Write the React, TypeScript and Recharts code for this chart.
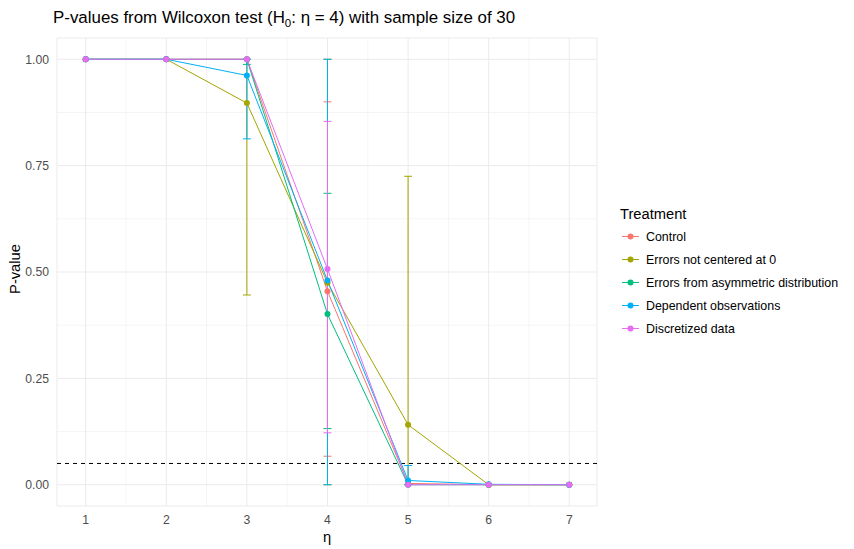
// P-values from the Wilcoxon test for several treatments, eta = 1..7.
// Lines with dots per treatment, asymmetric error bars at eta 3-5 and a
// dashed significance line at 0.05.

import {
  CartesianGrid,
  ComposedChart,
  ErrorBar,
  Line,
  ReferenceLine,
  XAxis,
  YAxis,
} from "recharts";

const etas = [1, 2, 3, 4, 5, 6, 7];

const treatments = [
  "Control",
  "Errors not centered at 0",
  "Errors from asymmetric distribution",
  "Dependent observations",
  "Discretized data",
];

const colors = ["#F8766D", "#A3A500", "#00BF7D", "#00B0F6", "#E76BF3"];

// median p-value per eta
const controlP = [1, 1, 1, 0.455, 0.003, 0, 0];
const notCenteredP = [1, 1, 0.897, 0.475, 0.141, 0, 0];
const asymmetricP = [1, 1, 1, 0.401, 0, 0, 0];
const dependentP = [1, 1, 0.962, 0.48, 0.01, 0.001, 0];
const discretizedP = [1, 1, 1, 0.507, 0, 0, 0];

// error bar bounds (null = no bar)
const controlLow = [null, null, null, 0.067, null, null, null];
const controlHigh = [null, null, null, 0.9, null, null, null];
const notCenteredLow = [null, null, 0.446, 0, 0, null, null];
const notCenteredHigh = [null, null, 1, 1, 0.725, null, null];
const asymmetricLow = [null, null, 0.988, 0.132, null, null, null];
const asymmetricHigh = [null, null, 1, 0.685, null, null, null];
const dependentLow = [null, null, 0.813, 0, 0, null, null];
const dependentHigh = [null, null, 1, 1, 0.045, null, null];
const discretizedLow = [null, null, null, 0.122, null, null, null];
const discretizedHigh = [null, null, null, 0.854, null, null, null];

const yTicks = [0, 0.25, 0.5, 0.75, 1];
const yMinor = [0.125, 0.375, 0.625, 0.875];
const xMinor = [1.5, 2.5, 3.5, 4.5, 5.5, 6.5];

const seriesValues = [controlP, notCenteredP, asymmetricP, dependentP, discretizedP];
const seriesLow = [controlLow, notCenteredLow, asymmetricLow, dependentLow, discretizedLow];
const seriesHigh = [controlHigh, notCenteredHigh, asymmetricHigh, dependentHigh, discretizedHigh];

const FONT = '"Liberation Sans", Arial, sans-serif';
const TICK = { fill: "#4D4D4D", fontSize: 12.2, fontFamily: FONT };

// ErrorBar wants [below, above] offsets from the point value
function errorOffsets(value: number, low: number | null, high: number | null) {
  if (low === null || high === null) return undefined;
  return [value - low, high - value];
}

const rows = etas.map((eta, i) => {
  const row: Record<string, unknown> = { eta };
  seriesValues.forEach((values, s) => {
    row[`s${s}`] = values[i];
    row[`e${s}`] = errorOffsets(values[i], seriesLow[s][i], seriesHigh[s][i]);
  });
  return row;
});

function Overlay() {
  return (
    <svg
      width={854}
      height={549}
      style={{ position: "absolute", left: 0, top: 0, pointerEvents: "none" }}
      fontFamily={FONT}
    >
      <text x={53} y={23} fontSize={16.9} fill="#000">
        P-values from Wilcoxon test (H
        <tspan fontSize={11.5} dy={4}>0</tspan>
        <tspan dy={-4}>: η = 4) with sample size of 30</tspan>
      </text>
      <text
        x={19.5}
        y={269}
        fontSize={14.7}
        textAnchor="middle"
        transform="rotate(-90 19.5 269)"
      >
        P-value
      </text>
      <text x={327} y={542} fontSize={14.7} textAnchor="middle">
        η
      </text>

      <text x={620} y={219} fontSize={14.7}>
        Treatment
      </text>
      {treatments.map((name, i) => {
        const cy = 236.5 + i * 23;
        return (
          <g key={name}>
            <line x1={622} x2={639} y1={cy} y2={cy} stroke={colors[i]} strokeWidth={1} />
            <circle cx={630.5} cy={cy} r={3} fill={colors[i]} />
            <text x={646} y={cy + 4.4} fontSize={12.4} fill="#000">
              {name}
            </text>
          </g>
        );
      })}
    </svg>
  );
}

export default function App() {
  return (
    <div style={{ position: "absolute", left: 0, top: 0, width: 854, height: 549, background: "#fff" }}>
      <ComposedChart
        width={854}
        height={549}
        data={rows}
        margin={{ top: 38, right: 257, left: 0, bottom: 0 }}
      >
        <CartesianGrid stroke="#EBEBEB" strokeWidth={1} />
        {xMinor.map((x) => (
          <ReferenceLine key={`vx${x}`} x={x} stroke="#EBEBEB" strokeWidth={0.55} />
        ))}
        {yMinor.map((y) => (
          <ReferenceLine key={`hy${y}`} y={y} stroke="#EBEBEB" strokeWidth={0.55} />
        ))}
        <XAxis
          dataKey="eta"
          type="number"
          domain={[0.644, 7.344]}
          ticks={etas}
          allowDataOverflow
          axisLine={false}
          tickLine={false}
          tickSize={6}
          tickMargin={3}
          height={43}
          tick={TICK}
        />
        <YAxis
          type="number"
          domain={[-0.05, 1.05]}
          ticks={yTicks}
          allowDataOverflow
          axisLine={false}
          tickLine={false}
          tickSize={6}
          tickMargin={2}
          width={57}
          tick={TICK}
          tickFormatter={(v: number) => v.toFixed(2)}
        />
        <ReferenceLine y={0.05} stroke="#000" strokeWidth={1} strokeDasharray="4 4" />
        {treatments.map((name, s) => (
          <Line
            key={name}
            name={name}
            dataKey={`s${s}`}
            type="linear"
            stroke={colors[s]}
            strokeWidth={1}
            dot={{ r: 3, fill: colors[s], stroke: colors[s], strokeWidth: 0 }}
            activeDot={false}
            isAnimationActive={false}
          >
            <ErrorBar
              dataKey={`e${s}`}
              direction="y"
              width={4}
              stroke={colors[s]}
              strokeWidth={1}
              isAnimationActive={false}
            />
          </Line>
        ))}
      </ComposedChart>
      <Overlay />
    </div>
  );
}
